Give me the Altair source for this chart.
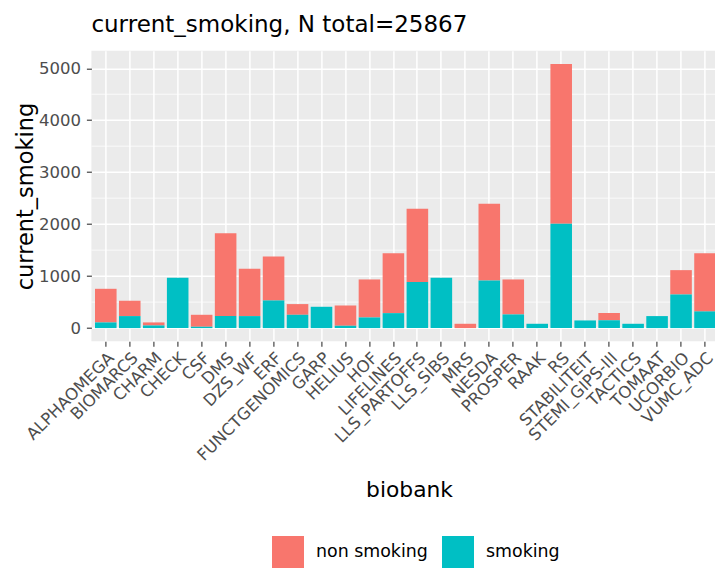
import altair as alt
import pandas as pd

biobanks = ["ALPHAOMEGA", "BIOMARCS", "CHARM", "CHECK", "CSF", "DMS", "DZS_WF", "ERF",
            "FUNCTGENOMICS", "GARP", "HELIUS", "HOF", "LIFELINES", "LLS_PARTOFFS", "LLS_SIBS",
            "MRS", "NESDA", "PROSPER", "RAAK", "RS", "STABILITEIT", "STEMI_GIPS-III", "TACTICS",
            "TOMAAT", "UCORBIO", "VUMC_ADC"]
smoking = [109, 231, 51, 968, 26, 231, 231, 532, 256, 410, 45, 205, 288, 885, 968,
           0, 917, 263, 83, 2006, 147, 150, 83, 231, 647, 321]
non_smoking = [647, 295, 58, 0, 230, 1596, 910, 846, 206, 0, 391, 731, 1154, 1410, 0,
               83, 1474, 673, 0, 3077, 0, 141, 0, 0, 468, 1121]
statuses = ["non smoking", "smoking"]
colors = ["#F8766D", "#00BFC4"]
y_ticks = [0, 1000, 2000, 3000, 4000, 5000]
y_minor = [500, 1500, 2500, 3500, 4500]
title_text = "current_smoking, N total=25867"

rows = []
for b, s, n in zip(biobanks, smoking, non_smoking):
    rows.append({"biobank": b, "status": "non smoking", "count": n, "ord": 1})
    rows.append({"biobank": b, "status": "smoking", "count": s, "ord": 0})
df = pd.DataFrame(rows)

totals = [s + n for s, n in zip(smoking, non_smoking)]
ymax = max(totals)
pad = 0.05 * ymax
ydom = [-pad, ymax + pad]

FONT = "DejaVu Sans"
W = 628
H = 290.6
LEFT = 83.4
TOP = 42.7
SVG_W = 707
SVG_H = 562

yscale = alt.Scale(domain=ydom, nice=False, zero=False)

minor = alt.Chart(pd.DataFrame({"v": y_minor})).mark_rule(
    color="white", strokeWidth=0.75
).encode(y=alt.Y("v:Q", scale=yscale))

bars = alt.Chart(df).mark_bar(strokeWidth=0).encode(
    x=alt.X("biobank:N", sort=biobanks,
            scale=alt.Scale(paddingInner=0.1, paddingOuter=0.15),
            axis=alt.Axis(title="biobank", labelAngle=-45, labelAlign="right",
                          labelBaseline="top", labelPadding=3, labelFontSize=16.5,
                          labelColor="#4D4D4D", tickColor="#333333", tickSize=5,
                          tickWidth=1.1, domain=False, grid=True, gridColor="white",
                          gridWidth=1.5, labelOverlap=False, labelLimit=0,
                          titleFontSize=21.8, titleFontWeight="normal", titleColor="black",
                          titleX=317.6, titleY=155, titleBaseline="alphabetic",
                          titleAlign="center")),
    y=alt.Y("count:Q", stack="zero", scale=yscale,
            axis=alt.Axis(title="current_smoking", values=y_ticks, format="d",
                          labelFontSize=16.5, labelColor="#4D4D4D", labelPadding=6,
                          tickColor="#333333", tickSize=5, tickWidth=1.1,
                          domain=False, grid=True, gridColor="white", gridWidth=1.5,
                          titleFontSize=22.5, titleFontWeight="normal", titleColor="black",
                          titleX=-59.4, titleY=H / 2, titleAngle=-90,
                          titleBaseline="alphabetic", titleAlign="center")),
    color=alt.Color("status:N", scale=alt.Scale(domain=statuses, range=colors),
                    legend=alt.Legend(title=None, orient="none", legendX=180.6, legendY=485.3,
                                      offset=0, direction="horizontal", symbolType="square",
                                      symbolSize=1024, symbolStrokeWidth=0,
                                      labelFontSize=17.4, labelColor="black",
                                      labelOffset=12, columnPadding=14, padding=0)),
    order=alt.Order("ord:Q", sort="ascending"),
)

chart = alt.layer(minor, bars).properties(
    width=W, height=H,
    title=alt.TitleParams(title_text, anchor="start", frame="group", fontSize=23,
                          fontWeight="normal", font=FONT, color="black",
                          baseline="alphabetic", offset=0, dy=4.3),
    autosize=alt.AutoSizeParams(type="none"),
    padding={"left": LEFT, "top": TOP, "right": SVG_W - LEFT - W,
             "bottom": SVG_H - TOP - H},
).configure(font=FONT).configure_view(
    fill="#EBEBEB", stroke=None
).configure_axis(labelFont=FONT, titleFont=FONT).configure_legend(labelFont=FONT)

chart.save("out.html", embed_options={"renderer": "svg", "actions": False})
